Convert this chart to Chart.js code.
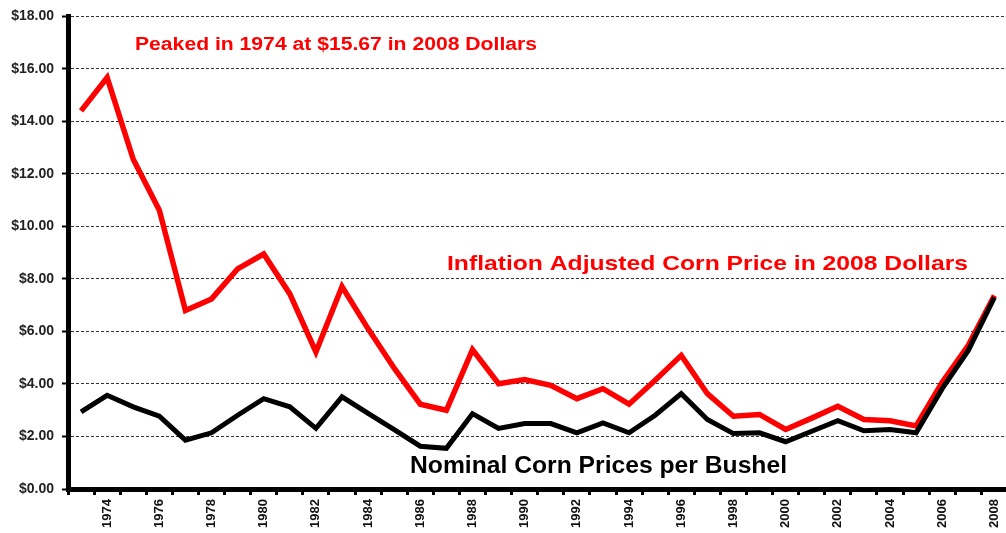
<!DOCTYPE html>
<html lang="en">
<head>
    <meta charset="UTF-8">
    <title>Corn Prices</title>
    <script src="https://cdn.jsdelivr.net/npm/chart.js"></script>
    <style>
        html, body {
            margin: 0;
            padding: 0;
            background: white;
            overflow: hidden;
        }
        #wrap {
            width: 1006px;
            height: 533px;
            overflow: hidden;
        }
    </style>
</head>
<body>
    <div id="wrap">
        <canvas id="corn-chart" width="1014" height="533"></canvas>
    </div>

    <script>
        const years = [];
        for (let y = 1973; y <= 2008; y++) years.push(String(y));

        const realPrice = [14.4, 15.67, 12.56, 10.62, 6.8, 7.24, 8.38, 8.95, 7.43, 5.22,
            7.71, 6.1, 4.6, 3.23, 3.0, 5.31, 4.01, 4.17, 3.95, 3.44,
            3.82, 3.23, 4.14, 5.09, 3.63, 2.77, 2.84, 2.27, 2.7, 3.15,
            2.65, 2.6, 2.4, 4.07, 5.47, 7.37];

        const nominalPrice = [2.94, 3.57, 3.13, 2.77, 1.86, 2.14, 2.81, 3.44, 3.13, 2.31,
            3.51, 2.88, 2.26, 1.63, 1.55, 2.87, 2.31, 2.49, 2.49, 2.14,
            2.52, 2.14, 2.81, 3.63, 2.65, 2.11, 2.14, 1.8, 2.2, 2.6,
            2.22, 2.27, 2.14, 3.82, 5.28, 7.3];

        const yTicks = [0, 2, 4, 6, 8, 10, 12, 14, 16, 18];

        const notes = [
            { text: 'Peaked in 1974 at $15.67 in 2008 Dollars', color: '#ff0000', size: 18, x: 135, y: 50, w: 402 },
            { text: 'Inflation Adjusted Corn Price in 2008 Dollars', color: '#ff0000', size: 21, x: 447, y: 270, w: 521 },
            { text: 'Nominal Corn Prices per Bushel', color: '#000000', size: 23, x: 410, y: 473, w: 377 }
        ];

        // writes the three captions, stretched sideways to the width they have in the original
        const notesPlugin = {
            id: 'notes',
            afterDatasetsDraw(chart) {
                const ctx = chart.ctx;
                notes.forEach(n => {
                    ctx.save();
                    ctx.font = 'bold ' + n.size + 'px "Liberation Sans", Arial, sans-serif';
                    ctx.fillStyle = n.color;
                    ctx.textAlign = 'left';
                    ctx.textBaseline = 'alphabetic';
                    const sx = n.w / ctx.measureText(n.text).width;
                    ctx.translate(n.x, n.y);
                    ctx.scale(sx, 1);
                    ctx.fillText(n.text, 0, 0);
                    ctx.restore();
                });
            }
        };

        const ctx = document.getElementById('corn-chart').getContext('2d');
        new Chart(ctx, {
            type: 'line',
            data: {
                labels: years,
                datasets: [
                    {
                        label: 'Nominal Corn Prices per Bushel',
                        data: nominalPrice,
                        borderColor: '#000000',
                        borderWidth: 5,
                        pointRadius: 0,
                        tension: 0
                    },
                    {
                        label: 'Inflation Adjusted Corn Price in 2008 Dollars',
                        data: realPrice,
                        borderColor: '#ff0000',
                        borderWidth: 5.5,
                        pointRadius: 0,
                        tension: 0
                    }
                ]
            },
            options: {
                responsive: false,
                animation: false,
                devicePixelRatio: 1,
                layout: { padding: { top: 15, left: 0, right: 0, bottom: 0 } },
                plugins: {
                    legend: { display: false },
                    tooltip: { enabled: false }
                },
                scales: {
                    x: {
                        offset: true,
                        afterFit(scale) { scale.height = 44; },
                        grid: {
                            display: true,
                            offset: true,
                            drawOnChartArea: false,
                            drawTicks: true,
                            tickLength: 6,
                            tickColor: '#000',
                            tickWidth: 3
                        },
                        border: { display: true, color: '#000', width: 5 },
                        ticks: {
                            autoSkip: false,
                            maxRotation: 90,
                            minRotation: 90,
                            padding: 4,
                            color: '#111',
                            font: { family: '"Liberation Sans", Arial, sans-serif', size: 13, weight: 'bold' },
                            callback(value, index) {
                                const yr = Number(years[index]);
                                return yr % 2 === 0 ? years[index] : '';
                            }
                        }
                    },
                    y: {
                        min: 0,
                        max: 18,
                        afterFit(scale) { scale.width = 68; },
                        afterBuildTicks(scale) {
                            scale.ticks = yTicks.map(v => ({ value: v }));
                        },
                        grid: {
                            color: '#333',
                            lineWidth: 1,
                            drawTicks: true,
                            tickLength: 6,
                            tickColor: '#000',
                            tickWidth: 2,
                            tickBorderDash: []
                        },
                        border: { display: true, color: '#000', width: 5, dash: [3, 2] },
                        ticks: {
                            padding: 8,
                            color: '#222',
                            font: { family: '"Liberation Sans", Arial, sans-serif', size: 14, weight: 'bold' },
                            callback(value) { return '$' + Number(value).toFixed(2); }
                        }
                    }
                }
            },
            plugins: [notesPlugin]
        });
    </script>
</body>
</html>
